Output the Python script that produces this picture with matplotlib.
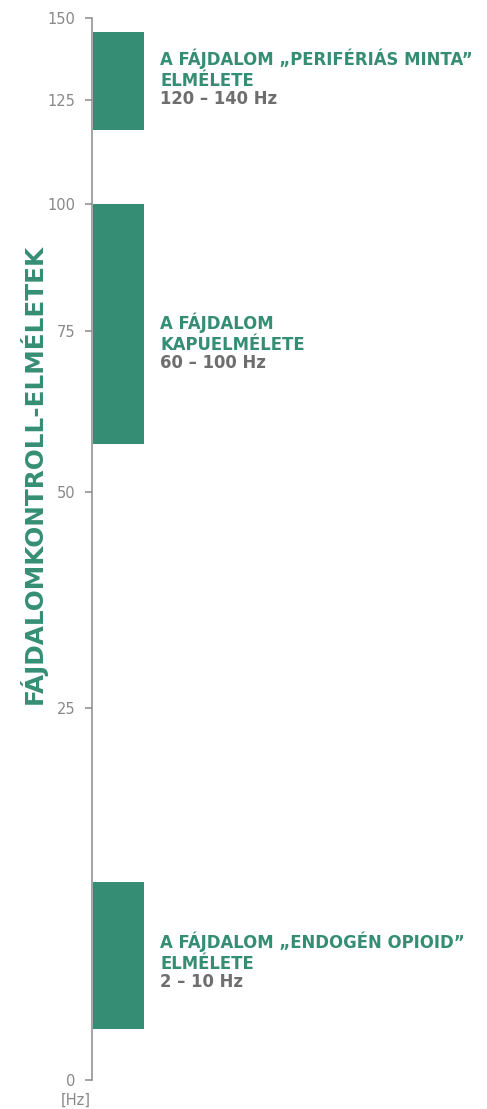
import matplotlib
matplotlib.use("Agg")
import matplotlib.pyplot as plt
import numpy as np

# tick values and where they sit (pixels above the 0 line) - the axis is not linear
tick_values = [0, 25, 50, 75, 100, 125, 150]
tick_heights = [0, 372, 588, 749, 876, 980, 1062]

# bands (low, high) as drawn
band_low = [3.4, 57.5, 117.8]
band_high = [13.3, 100, 145.7]
label_pos = [7.9, 73.1, 131.4]
label_titles = [
    "A FÁJDALOM „ENDOGÉN OPIOID”\nELMÉLETE",
    "A FÁJDALOM\nKAPUELMÉLETE",
    "A FÁJDALOM „PERIFÉRIÁS MINTA”\nELMÉLETE",
]
label_ranges = ["2 – 10 Hz", "60 – 100 Hz", "120 – 140 Hz"]

GREEN = "#358e73"
GREY = "#6e6e6e"
AXIS = "#8a8a8a"


def fwd(v):
    return np.interp(v, tick_values, tick_heights)


def inv(h):
    return np.interp(h, tick_heights, tick_values)


W, H = 487, 1109
fig = plt.figure(figsize=(W / 100, H / 100), dpi=100)
ax = fig.add_axes([92 / W, 1 - 1080 / H, (W - 92) / W, 1062 / H])
ax.set_yscale("function", functions=(fwd, inv))
ax.set_ylim(0, 150)
ax.set_xlim(0, W - 92)

for lo, hi in zip(band_low, band_high):
    ax.bar(1, hi - lo, bottom=lo, width=51, align="edge", color=GREEN, linewidth=0)

for y, title, rng in zip(label_pos, label_titles, label_ranges):
    ax.annotate(title, (68, y), xytext=(0, 10), textcoords="offset pixels",
                fontsize=11.9, fontweight="bold", color=GREEN,
                va="center", ha="left", linespacing=1.25)
    ax.annotate(rng, (68, y), xytext=(0, -20), textcoords="offset pixels",
                fontsize=11.9, fontweight="bold", color=GREY,
                va="center", ha="left")

ax.set_yticks(tick_values)
ax.set_yticklabels([str(v) for v in tick_values])
ax.tick_params(axis="y", length=5, width=1.1, color=AXIS, labelcolor="#888888",
               labelsize=10.5, pad=7)
ax.set_xticks([])
for s in ["top", "right", "bottom"]:
    ax.spines[s].set_visible(False)
ax.spines["left"].set_color(AXIS)
ax.spines["left"].set_linewidth(1.1)

fig.text(76 / W, 1 - 1100 / H, "[Hz]", fontsize=10.5, color="#888888",
         ha="center", va="center")
fig.text(33 / W, 1 - 474 / H, "FÁJDALOMKONTROLL-ELMÉLETEK", fontsize=17.8,
         fontweight="bold", color=GREEN, rotation=90, ha="center", va="center")

fig.savefig("out.png", dpi=100)
